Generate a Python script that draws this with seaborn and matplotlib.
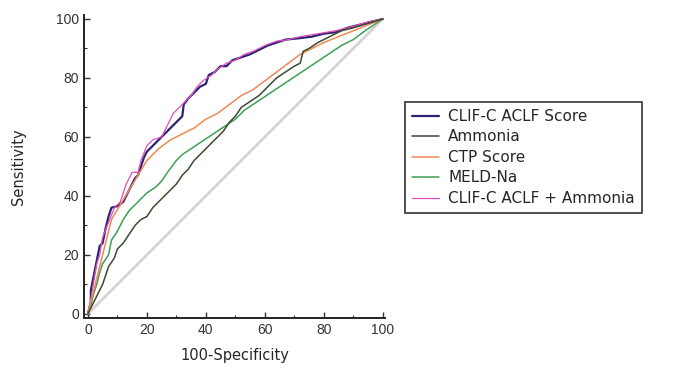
import numpy as np
import pandas as pd
import matplotlib
matplotlib.use("Agg")
import matplotlib.pyplot as plt
import seaborn as sns

# ROC curves (x = 100-Specificity, y = Sensitivity)
clif_x = [0, 1, 1, 2, 3, 4, 5, 6, 7, 8, 10, 12, 14, 16, 17, 18, 19, 20, 22, 24, 26, 28, 30, 32,
          32.5, 34, 36, 38, 40, 41, 43, 45, 47, 49, 52, 55, 58, 61, 64, 67, 72, 76, 80, 84, 88, 92, 96, 100]
clif_y = [0, 4, 8, 13, 18, 23, 24, 29, 33, 36, 36.5, 38, 42, 46, 47, 50, 53, 55, 57, 59, 61, 63, 65, 67,
          71, 73, 75, 77, 78, 81, 82, 84, 84, 86, 87, 88, 89.5, 91, 92, 93, 93.5, 94, 95, 95.5, 97, 98, 99, 100]

ammonia_x = [0, 1, 2, 3, 4, 5, 6, 7, 9, 10, 12, 14, 16, 18, 20, 22, 24, 26, 28, 30, 32, 34, 36, 38, 40,
             42, 44, 46, 48, 50, 52, 55, 58, 61, 64, 67, 70, 72, 73, 75, 78, 82, 86, 90, 95, 100]
ammonia_y = [0, 2, 4, 6, 8, 10, 13, 16, 19, 22, 24, 27, 30, 32, 33, 36, 38, 40, 42, 44, 47, 49, 52, 54, 56,
             58, 60, 62, 65, 67, 70, 72, 74, 77, 80, 82, 84, 85, 89, 90, 92, 94, 96, 97, 98.5, 100]

ctp_x = [0, 2, 4, 6, 8, 11, 14, 17, 20, 24, 28, 32, 36, 40, 44, 48, 52, 56, 60, 64, 68, 72, 76, 80, 85, 90, 95, 100]
ctp_y = [0, 8, 16, 24, 32, 37, 42, 47, 52, 56, 59, 61, 63, 66, 68, 71, 74, 76, 79, 82, 85, 88, 90, 92, 94, 96, 98, 100]

meld_x = [0, 1, 2, 3, 4, 5, 7, 8, 10, 12, 14, 16, 18, 20, 23, 25, 27, 30, 32, 35, 38, 41, 44, 47, 50,
          53, 56, 59, 62, 65, 68, 71, 74, 77, 80, 83, 86, 90, 94, 97, 100]
meld_y = [0, 3, 7, 10, 14, 17, 20, 25, 28, 32, 35, 37, 39, 41, 43, 45, 48, 52, 54, 56, 58, 60, 62, 64, 66,
          69, 71, 73, 75, 77, 79, 81, 83, 85, 87, 89, 91, 93, 96, 98, 100]

combo_x = [0, 1, 2, 3, 4, 5, 7, 9, 11, 13, 15, 17, 18, 20, 22, 25, 27, 29, 31, 33, 35, 37, 39, 42, 44,
           47, 50, 53, 56, 60, 64, 68, 72, 78, 84, 90, 95, 100]
combo_y = [0, 5, 11, 17, 20, 26, 31, 36, 38, 44, 48, 48, 52, 57, 59, 60, 64, 68, 70, 72, 74, 77, 79, 81, 83,
           85, 86, 88, 89, 91, 92.5, 93, 94, 95, 96, 97.5, 99, 100]

labels = ["CLIF-C ACLF Score", "Ammonia", "CTP Score", "MELD-Na", "CLIF-C ACLF + Ammonia"]
colors = ["#2e2370", "#3c4a30", "#ee8a55", "#3f9f55", "#e050c0"]
widths = [1.6, 1.1, 1.1, 1.1, 0.9]

curves = [(clif_x, clif_y), (ammonia_x, ammonia_y), (ctp_x, ctp_y), (meld_x, meld_y), (combo_x, combo_y)]
frames = []
for lab, (xs, ys) in zip(labels, curves):
    frames.append(pd.DataFrame({"fpr": xs, "tpr": ys, "model": lab}))
df = pd.concat(frames, ignore_index=True)

sns.set_theme(style="ticks")
plt.rcParams["font.family"] = ["Liberation Sans", "DejaVu Sans"]

fig = plt.figure(figsize=(6.78, 3.71), dpi=100)
ax = fig.add_axes([0.124, 0.143, 0.444, 0.817])

ax.plot([0, 100], [0, 100], color="#d4d4d4", lw=2.0, zorder=1)

# draw in reverse so CLIF-C ACLF Score sits under the combined model line
for lab, col, lw in reversed(list(zip(labels, colors, widths))):
    sub = df[df["model"] == lab]
    sns.lineplot(data=sub, x="fpr", y="tpr", sort=False, estimator=None, color=col, lw=lw,
                 ax=ax, label=lab, zorder=3 if lab != labels[0] else 2)

ax.set_xlim(-1.3, 100.8)
ax.set_ylim(-1.4, 101.4)
ax.set_xticks([0, 20, 40, 60, 80, 100])
ax.set_yticks([0, 20, 40, 60, 80, 100])
ax.set_xticks(np.arange(10, 100, 20), minor=True)
ax.set_yticks(np.arange(10, 100, 20), minor=True)
ax.tick_params(axis="both", which="major", direction="in", length=4, width=1, labelsize=10, colors="#333333")
ax.tick_params(axis="both", which="minor", direction="in", length=2, width=0.8)
ax.set_xlabel("100-Specificity", fontsize=10.5, family="DejaVu Sans", labelpad=8)
ax.set_ylabel("Sensitivity", fontsize=10.5, family="DejaVu Sans", labelpad=22)
for side in ["top", "right"]:
    ax.spines[side].set_visible(False)
for side in ["left", "bottom"]:
    ax.spines[side].set_linewidth(1.4)
    ax.spines[side].set_color("#222222")

ax.get_legend().remove()
handles, labs = ax.get_legend_handles_labels()
order = [labs.index(l) for l in labels]
leg = fig.legend([handles[i] for i in order], labels, loc="upper left",
                 bbox_to_anchor=(0.597, 0.725), frameon=True, fancybox=False,
                 prop={"family": "DejaVu Sans", "size": 11},
                 edgecolor="#333333", framealpha=1, handlelength=1.8, labelspacing=0.36,
                 borderpad=0.45, handletextpad=0.6, borderaxespad=0)
leg.get_frame().set_linewidth(1.2)

fig.savefig("out.png", dpi=100)
